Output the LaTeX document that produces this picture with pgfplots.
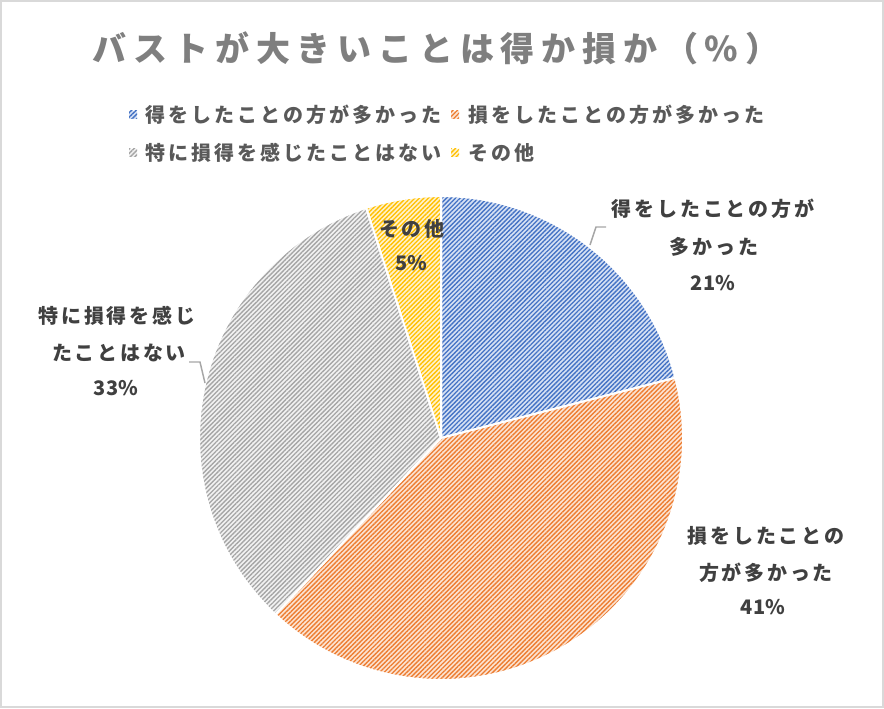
\documentclass[border=0pt]{standalone}
\usepackage{pgfplots}
\pgfplotsset{compat=1.18}
\usetikzlibrary{patterns.meta}
\usepackage{fontspec}
\setmainfont{Noto Sans CJK JP}
\newfontfamily\titlefont[LetterSpace=20]{Noto Sans CJK JP}
\newfontfamily\legfont[LetterSpace=15]{Noto Sans CJK JP}
\newfontfamily\lblfont[LetterSpace=14]{Noto Sans CJK JP}
\newfontfamily\numfont{Noto Sans CJK JP}

\definecolor{bluedark}{HTML}{4472C4}
\definecolor{bluelight}{HTML}{D6E1F4}
\definecolor{orgdark}{HTML}{ED7D31}
\definecolor{orglight}{HTML}{FCE3D2}
\definecolor{gradark}{HTML}{A5A5A5}
\definecolor{gralight}{HTML}{F2F2F2}
\definecolor{yeldark}{HTML}{FFC000}
\definecolor{yellight}{HTML}{FFF2CC}
\definecolor{titlegray}{HTML}{7F7F7F}
\definecolor{leggray}{HTML}{595959}
\definecolor{lblgray}{HTML}{404040}
\definecolor{leadgray}{HTML}{A6A6A6}
\definecolor{framegray}{HTML}{D9D9D9}

% share in percent / light colour / pattern colour, clockwise from 12 o'clock
\def\piedata{21/bluelight/bluedark, 41/orglight/orgdark, 33/gralight/gradark, 5/yellight/yeldark}

\tikzset{
  stripes/.style={pattern={Lines[angle=45,distance=2.4pt,line width=1pt]},pattern color=#1},
  lbl/.style={text=lblgray,font=\lblfont\fontsize{15}{18}\selectfont\bfseries,inner sep=0pt},
  num/.style={text=lblgray,font=\numfont\fontsize{15}{18}\selectfont\bfseries,inner sep=0pt},
  leg/.style={text=leggray,font=\legfont\fontsize{15}{18}\selectfont\bfseries,inner sep=0pt,anchor=west},
}

\begin{document}
\begin{tikzpicture}
\begin{axis}[
    width=663pt, height=531pt, scale only axis,
    xmin=0, xmax=884, ymin=0, ymax=708,
    hide axis, clip=false,
]
% frame
\draw[framegray,line width=1.5pt] (axis cs:1,1) rectangle (axis cs:883,707);

% pie slices
\pgfplotsextra{
  \gdef\pieStart{90}
  \foreach \v/\lc/\dc in \piedata {
    \pgfmathsetmacro\pieEnd{\pieStart-3.6*\v}
    \fill[\lc] (axis cs:441,270) -- ++(\pieStart:181.5pt)
      arc[start angle=\pieStart,end angle=\pieEnd,radius=181.5pt] -- cycle;
    \fill[stripes=\dc] (axis cs:441,270) -- ++(\pieStart:181.5pt)
      arc[start angle=\pieStart,end angle=\pieEnd,radius=181.5pt] -- cycle;
    \draw[white,line width=1.5pt,line join=round] (axis cs:441,270) -- ++(\pieStart:181.5pt)
      arc[start angle=\pieStart,end angle=\pieEnd,radius=181.5pt] -- cycle;
    \xdef\pieStart{\pieEnd}
  }
}

% title
\node[text=titlegray,font=\titlefont\fontsize{25.5}{30}\selectfont\bfseries,inner sep=0pt]
  at (axis cs:436,660) {バストが大きいことは得か損か（\%）};

% legend
\fill[bluelight] (axis cs:129,589) rectangle (axis cs:137,597);
\fill[stripes=bluedark] (axis cs:129,589) rectangle (axis cs:137,597);
\node[leg] at (axis cs:145,593) {得をしたことの方が多かった};
\fill[orglight] (axis cs:451,589) rectangle (axis cs:459,597);
\fill[stripes=orgdark] (axis cs:451,589) rectangle (axis cs:459,597);
\node[leg] at (axis cs:468,593) {損をしたことの方が多かった};
\fill[gralight] (axis cs:129,551) rectangle (axis cs:137,559);
\fill[stripes=gradark] (axis cs:129,551) rectangle (axis cs:137,559);
\node[leg] at (axis cs:145,555) {特に損得を感じたことはない};
\fill[yellight] (axis cs:451,551) rectangle (axis cs:459,559);
\fill[stripes=yeldark] (axis cs:451,551) rectangle (axis cs:459,559);
\node[leg] at (axis cs:468,555) {その他};

% leader lines
\draw[leadgray,line width=1.1pt] (axis cs:590,463) -- (axis cs:596,481) -- (axis cs:606,481);
\draw[leadgray,line width=1.1pt] (axis cs:189,346) -- (axis cs:200,346) -- (axis cs:205,325);

% data labels
\node[lbl] at (axis cs:713,499) {得をしたことの方が};
\node[lbl] at (axis cs:714,461) {多かった};
\node[num] at (axis cs:713,425) {21\%};

\node[lbl] at (axis cs:766,172) {損をしたことの};
\node[lbl] at (axis cs:766,135) {方が多かった};
\node[num] at (axis cs:763,101) {41\%};

\node[lbl] at (axis cs:117,392) {特に損得を感じ};
\node[lbl] at (axis cs:119,355) {たことはない};
\node[num] at (axis cs:116,320) {33\%};

\node[lbl] at (axis cs:412,479) {その他};
\node[num] at (axis cs:411,445) {5\%};
\end{axis}
\end{tikzpicture}
\end{document}
